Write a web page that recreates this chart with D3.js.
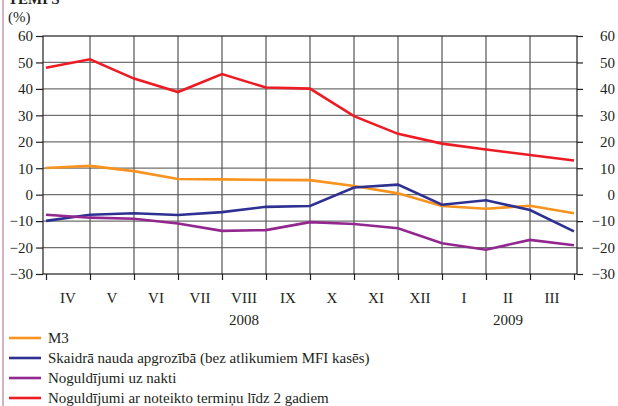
<!DOCTYPE html>
<html>
<head>
<meta charset="utf-8">
<script src="https://cdn.jsdelivr.net/npm/d3@7"></script>
<style>
  body { margin: 0; background: #fff; }
  text { font-family: "Liberation Serif", "DejaVu Serif", serif; fill: #231f20; }
</style>
</head>
<body>
<script>
// month labels (one per interval) and the 13 month-end points
let months = ["IV", "V", "VI", "VII", "VIII", "IX", "X", "XI", "XII", "I", "II", "III"];
let years = [{label: "2008", at: 4}, {label: "2009", at: 10}];
let yTicks = [60, 50, 40, 30, 20, 10, 0, -10, -20, -30];

let m3 = [10.1, 10.9, 8.9, 5.9, 5.8, 5.6, 5.5, 3.3, 0.5, -4.3, -5.3, -4.2, -7.0];
let cash = [-9.9, -7.6, -7.0, -7.7, -6.6, -4.6, -4.3, 2.7, 3.8, -3.8, -2.1, -5.8, -13.9];
let overnight = [-7.6, -8.7, -9.1, -10.9, -13.7, -13.4, -10.4, -11.1, -12.7, -18.4, -20.8, -17.1, -19.1];
let termDeposits = [48.0, 51.2, 43.9, 38.8, 45.6, 40.5, 40.1, 29.7, 23.0, 19.3, 17.1, 15.0, 12.9];

let series = [
    {name: "M3", values: m3, color: "#f7931e"},
    {name: "Skaidrā nauda apgrozībā (bez atlikumiem MFI kasēs)", values: cash, color: "#2e3192"},
    {name: "Noguldījumi uz nakti", values: overnight, color: "#92278f"},
    {name: "Noguldījumi ar noteikto termiņu līdz 2 gadiem", values: termDeposits, color: "#ed1c24"}
];

let svgWidth = 618, svgHeight = 406;
let plot = {left: 43, right: 577, top: 36, bottom: 274};

let svg = d3.select("body").append("svg")
    .attr("width", svgWidth)
    .attr("height", svgHeight);

// page border on the left
svg.append("line")
    .attr("x1", 3).attr("x2", 3).attr("y1", 0).attr("y2", svgHeight)
    .attr("stroke", "#c99aae").attr("stroke-width", 1.5);

// title (cut at the top) and unit
svg.append("text").attr("x", 8).attr("y", 4)
    .attr("font-size", 15).attr("font-weight", "bold").text("TEMPS");
svg.append("text").attr("x", 8).attr("y", 22)
    .attr("font-size", 15).text("(%)");

let x = d3.scaleLinear().domain([0, 12]).range([46, 574]);
let y = d3.scaleLinear().domain([-30, 60]).range([plot.bottom, plot.top]);

// horizontal grid
svg.append("g").selectAll("line")
    .data(yTicks.filter(d => d > -30 && d < 60))
    .enter().append("line")
    .attr("x1", plot.left).attr("x2", plot.right)
    .attr("y1", d => y(d)).attr("y2", d => y(d))
    .attr("stroke", "#707070").attr("stroke-width", 1.3);

// vertical grid
svg.append("g").selectAll("line")
    .data(d3.range(1, 12))
    .enter().append("line")
    .attr("x1", d => x(d)).attr("x2", d => x(d))
    .attr("y1", plot.top).attr("y2", plot.bottom)
    .attr("stroke", "#555").attr("stroke-width", 1.2);

// frame
svg.append("rect")
    .attr("x", plot.left).attr("y", plot.top)
    .attr("width", plot.right - plot.left).attr("height", plot.bottom - plot.top)
    .attr("fill", "none").attr("stroke", "#231f20").attr("stroke-width", 1.2);

// left and right axes
let fmt = d => d < 0 ? "\u2212" + Math.abs(d) : d;
let leftAxis = d3.axisLeft(y).tickValues(yTicks).tickSize(7).tickPadding(3).tickFormat(fmt);
let rightAxis = d3.axisRight(y).tickValues(yTicks).tickSize(6).tickPadding(16).tickFormat(fmt);

let gl = svg.append("g").attr("transform", `translate(${plot.left},0)`).call(leftAxis);
let gr = svg.append("g").attr("transform", `translate(${plot.right},0)`).call(rightAxis);
[gl, gr].forEach(g => {
    g.select(".domain").remove();
    g.selectAll(".tick line").attr("stroke", "#231f20").attr("stroke-width", 1.2);
    g.selectAll(".tick text").attr("font-size", 15)
        .attr("font-family", "Liberation Serif").attr("fill", "#231f20");
});
gr.selectAll(".tick text").attr("text-anchor", "end").attr("x", 38);

// bottom axis ticks
let bottomAxis = d3.axisBottom(x).tickValues(d3.range(0, 13)).tickSize(6).tickFormat("");
let gb = svg.append("g").attr("transform", `translate(0,${plot.bottom})`).call(bottomAxis);
gb.select(".domain").remove();
gb.selectAll(".tick line").attr("stroke", "#231f20").attr("stroke-width", 1.2);

// month labels centered in intervals
svg.append("g").selectAll("text")
    .data(months)
    .enter().append("text")
    .attr("x", (d, i) => x(i + 0.5))
    .attr("y", 303)
    .attr("text-anchor", "middle")
    .attr("font-size", 15)
    .text(d => d);

svg.append("g").selectAll("text")
    .data(years)
    .enter().append("text")
    .attr("x", d => x(d.at + 0.5))
    .attr("y", 325)
    .attr("text-anchor", "middle")
    .attr("font-size", 15)
    .text(d => d.label);

// lines
let line = d3.line().x((d, i) => x(i)).y(d => y(d));
svg.append("g").selectAll("path")
    .data(series)
    .enter().append("path")
    .attr("d", d => line(d.values))
    .attr("fill", "none")
    .attr("stroke", d => d.color)
    .attr("stroke-width", 2.6)
    .attr("stroke-linejoin", "miter");

// legend
let legend = svg.append("g").selectAll("g")
    .data(series)
    .enter().append("g")
    .attr("transform", (d, i) => `translate(0,${338 + i * 20})`);
legend.append("line")
    .attr("x1", 9).attr("x2", 41)
    .attr("stroke", d => d.color).attr("stroke-width", 2.6);
legend.append("text")
    .attr("x", 48).attr("y", 5)
    .attr("font-size", 15)
    .text(d => d.name);
</script>
</body>
</html>
